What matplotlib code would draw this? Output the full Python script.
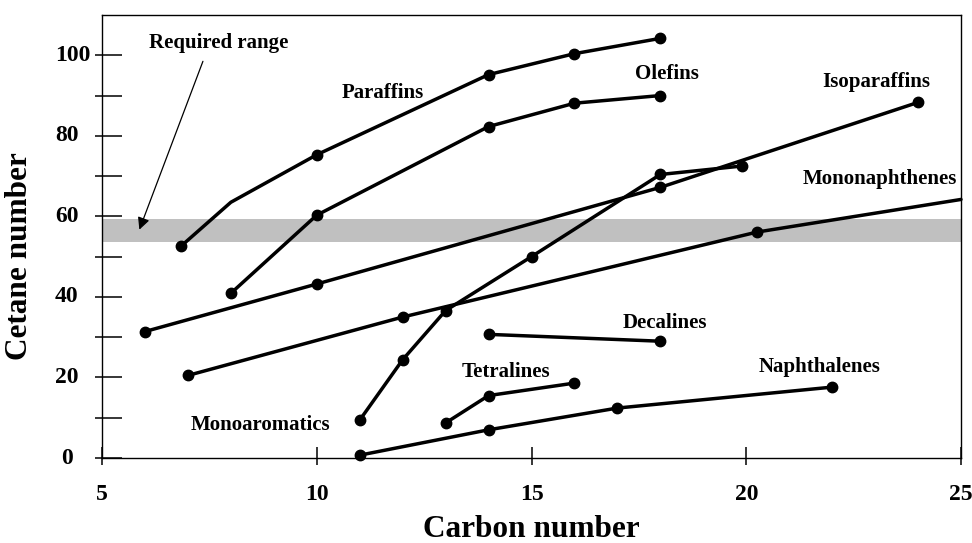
import numpy as np
import matplotlib
matplotlib.use("Agg")
import matplotlib.pyplot as plt
from matplotlib.ticker import MultipleLocator, NullFormatter
from matplotlib.transforms import blended_transform_factory

plt.rcParams['font.family'] = ['Liberation Serif', 'DejaVu Serif']
plt.rcParams['font.weight'] = 'bold'

# carbon number / cetane number per hydrocarbon family
paraffins_x = [6.85, 8.0, 10, 14, 16, 18]
paraffins_y = [52.7, 63.5, 75.3, 95.2, 100.4, 104.2]
olefins_x = [8, 10, 14, 16, 18]
olefins_y = [40.9, 60.3, 82.3, 88.1, 90.0]
isoparaffins_x = [6, 10, 18, 24]
isoparaffins_y = [31.4, 43.2, 67.2, 88.3]
mononaphthenes_x = [7, 12, 20.25, 25]
mononaphthenes_y = [20.5, 35.0, 56.1, 64.2]
monoaromatics_x = [11, 12, 13, 15, 18, 19.9]
monoaromatics_y = [9.4, 24.4, 36.6, 50.0, 70.4, 72.5]
decalines_x = [14, 18]
decalines_y = [30.7, 29.0]
tetralines_x = [13, 14, 16]
tetralines_y = [8.7, 15.5, 18.6]
naphthalenes_x = [11, 14, 17, 22]
naphthalenes_y = [0.7, 7.0, 12.4, 17.6]

required_range = (53.6, 59.4)
y_ticks = [0, 10, 20, 30, 40, 50, 60, 70, 80, 90, 100]
y_ticklabels = ["0", "", "20", "", "40", "", "60", "", "80", "", "100"]

series = [
    (paraffins_x, paraffins_y, [0, 2, 3, 4, 5]),
    (olefins_x, olefins_y, None),
    (isoparaffins_x, isoparaffins_y, None),
    (mononaphthenes_x, mononaphthenes_y, [0, 1, 2]),
    (monoaromatics_x, monoaromatics_y, None),
    (decalines_x, decalines_y, None),
    (tetralines_x, tetralines_y, None),
    (naphthalenes_x, naphthalenes_y, None),
]

# (text, centre x, baseline y)
labels = [
    ("Required range", 7.72, 101.8),
    ("Paraffins", 11.54, 89.5),
    ("Olefins", 18.15, 94.0),
    ("Isoparaffins", 23.02, 92.0),
    ("Mononaphthenes", 23.11, 68.0),
    ("Decalines", 18.10, 32.3),
    ("Tetralines", 14.41, 20.1),
    ("Naphthalenes", 21.71, 21.4),
    ("Monoaromatics", 8.69, 6.95),
]

fig = plt.figure(figsize=(9.72, 5.43), dpi=100)
ax = fig.add_axes([102 / 972, 1 - 458 / 543, (961 - 102) / 972, (458 - 15) / 543])

ax.axhspan(required_range[0], required_range[1], color="#c0c0c0", lw=0, zorder=1)

for xs, ys, mk in series:
    ax.plot(xs, ys, color="black", lw=2.5, marker="o", markersize=7.5,
            markevery=mk, solid_capstyle="round", clip_on=False, zorder=3)

for text, x, y in labels:
    ax.text(x, y, text, ha="center", va="baseline", fontsize=15, fontweight="bold")

ax.annotate("", xy=(5.87, 56.7), xytext=(7.35, 98.5),
            arrowprops=dict(arrowstyle="-|>", color="black", lw=0.9,
                            mutation_scale=18, shrinkA=0, shrinkB=0))

ax.set_xlim(5, 25)
ax.set_ylim(0, 110)

# ticks: long inward part + short outward stub
ax.xaxis.set_major_locator(MultipleLocator(5))
ax.xaxis.set_minor_locator(MultipleLocator(5))
ax.set_yticks(y_ticks)
ax.set_yticks(y_ticks, minor=True)
ax.xaxis.remove_overlapping_locs = False
ax.yaxis.remove_overlapping_locs = False
ax.yaxis.set_major_formatter(NullFormatter())
ax.xaxis.set_minor_formatter(NullFormatter())

ax.tick_params(axis="y", which="major", direction="in", length=14.5, width=1.1)
ax.tick_params(axis="x", which="major", direction="in", length=8, width=1.1,
               labelsize=17, pad=19)
ax.tick_params(which="minor", direction="out", length=5, width=1.1)

# y tick labels, centred left of the axis
ytrans = blended_transform_factory(ax.transAxes, ax.transData)
for v, lab in zip(y_ticks, y_ticklabels):
    if lab:
        xc = -(102 - 66.5) / 859 if len(lab) < 3 else -(102 - 72.5) / 859
        ax.text(xc, v, lab, transform=ytrans, ha="center", va="center",
                fontsize=17, fontweight="bold")

for s in ax.spines.values():
    s.set_linewidth(1.0)

ax.set_xlabel("Carbon number", fontsize=22.5, fontweight="bold")
ax.set_ylabel("Cetane number", fontsize=22.5, fontweight="bold")
ax.xaxis.label.set_va("baseline")
ax.xaxis.set_label_coords(0.5, -0.178)
ax.yaxis.label.set_va("center")
ax.yaxis.set_label_coords(-0.0955, 0.455)

fig.savefig("out.png", dpi=100, facecolor="white")
